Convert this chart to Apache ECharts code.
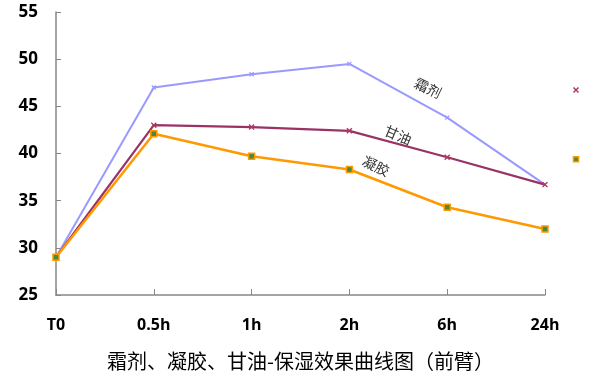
<!DOCTYPE html>
<html><head><meta charset="utf-8">
<script src="https://cdn.jsdelivr.net/npm/echarts@6/dist/echarts.min.js"></script>
<style>html,body{margin:0;padding:0;background:#fff}#c{width:603px;height:376px}</style>
</head><body><div id="c"></div>
<script>
var categories = ['T0', '0.5h', '1h', '2h', '6h', '24h'];
var shuangji = [29.0, 47.0, 48.4, 49.5, 43.8, 36.7];
var ganyou = [29.0, 43.0, 42.8, 42.4, 39.6, 36.7];
var ningjiao = [29.0, 42.1, 39.7, 38.3, 34.3, 32.0];
var yTicks = [25, 30, 35, 40, 45, 50, 55];
var title = '霜剂、凝胶、甘油-保湿效果曲线图（前臂）';

var crossPath = 'path://M0,0L10,10M10,0L0,10';
var chart = echarts.init(document.getElementById('c'));
chart.setOption({
  animation: false,
  grid: {left: 56, right: 58, top: 12, bottom: 80},
  legend: {
    orient: 'vertical', right: 17, top: 80, itemGap: 61, itemWidth: 5, itemHeight: 5,
    data: [
      {name: '甘油', icon: crossPath, itemStyle: {color: 'none', borderColor: '#b03a5a', borderWidth: 1.5}},
      {name: '凝胶', icon: 'rect', itemStyle: {color: '#4a8a3a', borderColor: '#ff9900', borderWidth: 1.5}}
    ],
    formatter: function () { return ''; },
    selectedMode: false
  },
  xAxis: {
    type: 'category', data: categories, boundaryGap: false,
    axisLine: {lineStyle: {color: '#888', width: 1.5}},
    axisTick: {inside: true, length: 6, lineStyle: {color: '#888'}},
    axisLabel: {margin: 22, color: '#000', fontWeight: 'bold', fontSize: 16, fontFamily: 'Open Sans'},
    name: title, nameLocation: 'middle', nameGap: 56,
    nameTextStyle: {color: '#000', fontSize: 20, fontFamily: 'Noto Sans CJK SC'}
  },
  yAxis: {
    type: 'value', min: 25, max: 55, interval: 5,
    axisLine: {show: true, lineStyle: {color: '#888', width: 1.5}},
    axisTick: {show: true, inside: true, length: 5, lineStyle: {color: '#888'}},
    splitLine: {show: false},
    axisLabel: {margin: 18, color: '#000', fontWeight: 'bold', fontSize: 17, fontFamily: 'Open Sans'}
  },
  series: [
    {name: '霜剂', type: 'line', data: shuangji, symbol: crossPath, symbolSize: 4,
     lineStyle: {color: '#9999ff', width: 2}, itemStyle: {color: 'none', borderColor: '#9999ff', borderWidth: 1.2}},
    {name: '甘油', type: 'line', data: ganyou, symbol: crossPath, symbolSize: 5,
     lineStyle: {color: '#993366', width: 2.2}, itemStyle: {color: 'none', borderColor: '#b03a5a', borderWidth: 1.4}},
    {name: '凝胶', type: 'line', data: ningjiao, symbol: 'rect', symbolSize: 6,
     lineStyle: {color: '#ff9900', width: 2.5}, itemStyle: {color: '#4a8a3a', borderColor: '#ff9900', borderWidth: 1.5}}
  ],
  graphic: [
    {type: 'text', x: 428, y: 88, rotation: -0.45, style: {text: '霜剂', fill: '#333', font: '14px "Noto Sans CJK SC"', textAlign: 'center', textVerticalAlign: 'middle'}},
    {type: 'text', x: 398, y: 135, rotation: -0.4, style: {text: '甘油', fill: '#333', font: '14px "Noto Sans CJK SC"', textAlign: 'center', textVerticalAlign: 'middle'}},
    {type: 'text', x: 376, y: 166, rotation: -0.45, style: {text: '凝胶', fill: '#333', font: '14px "Noto Sans CJK SC"', textAlign: 'center', textVerticalAlign: 'middle'}}
  ]
});
</script></body></html>
